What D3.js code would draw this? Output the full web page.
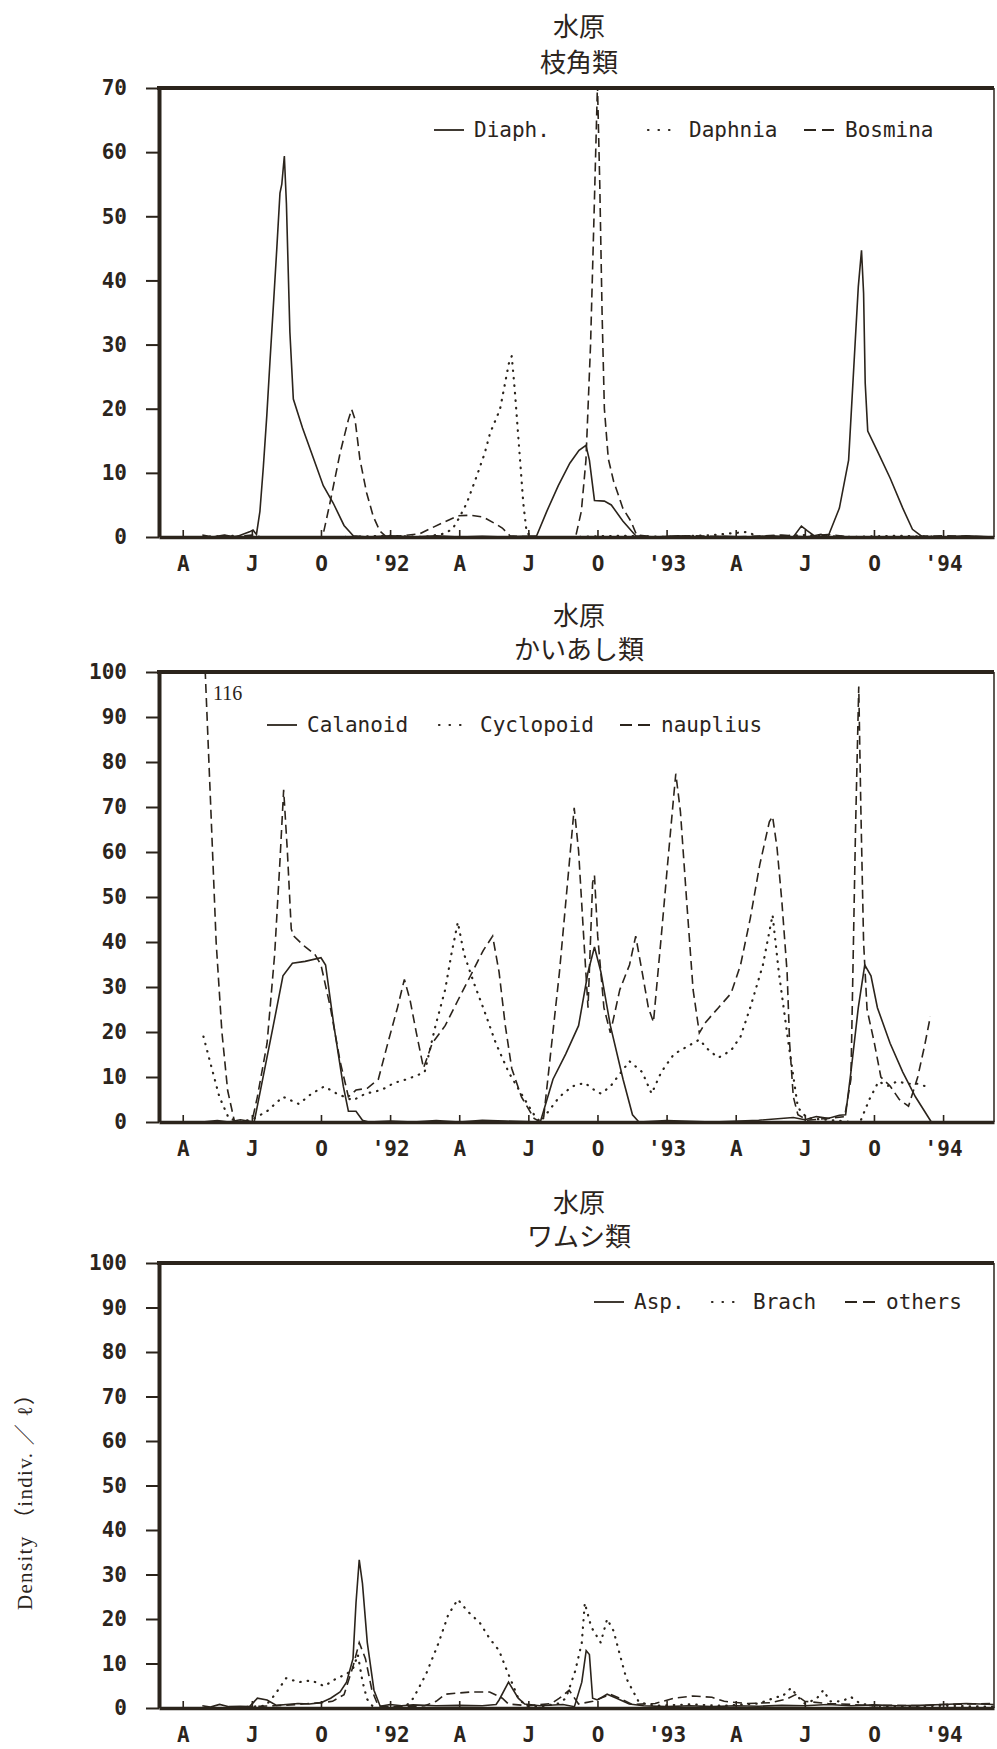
<!DOCTYPE html>
<html>
<head>
<meta charset="utf-8">
<script src="https://cdn.jsdelivr.net/npm/d3@7"></script>
<style>
  body { margin: 0; background: #fff; }
  svg { display: block; }
  .tick text { font-family: "DejaVu Sans Mono", monospace; font-size: 21px; font-weight: bold; fill: #2b241c; }
  .lab { font-family: "DejaVu Sans Mono", monospace; font-size: 21px; fill: #2b241c; }
  .title { font-family: "Noto Sans CJK JP", sans-serif; font-size: 26px; fill: #2b241c; }
</style>
</head>
<body>
<div id="chart"></div>
<script>
// time in months counted from Jan 1991 (3 = Apr '91)
var monthTicks = [3, 6, 9, 12, 15, 18, 21, 24, 27, 30, 33, 36]
var monthLabels = ["A", "J", "O", "'92", "A", "J", "O", "'93", "A", "J", "O", "'94"]
var ticks70 = [0, 10, 20, 30, 40, 50, 60, 70]
var ticks100 = [0, 10, 20, 30, 40, 50, 60, 70, 80, 90, 100]

//cladocera
var diaph = [[3.85,0.3],[4.3,0],[4.8,0.3],[5.3,0],[5.9,0.8],[6.05,1.1],[6.2,0.4],[6.35,4],[6.5,11],[6.65,19],[6.79,27.6],[6.95,37],[7.08,44.8],[7.22,53.6],[7.3,55],[7.41,59.4],[7.5,52],[7.65,32],[7.8,21.5],[8.2,17],[8.7,12],[9.1,8],[9.53,5.3],[10.0,1.8],[10.4,0.2],[11,0],[12,0.2],[13,0],[14,0.2],[15,0],[16,0.1],[17,0],[18.36,0.2],[18.8,4],[19.3,8],[19.8,11.5],[20.2,13.5],[20.5,14.3],[20.65,12],[20.87,5.7],[21.3,5.6],[21.6,5],[22.1,2.5],[22.66,0.2],[23.5,0],[24.5,0.2],[25.5,0],[26.5,0.1],[27.5,0],[28.5,0.2],[29.5,0],[29.85,1.7],[30.1,1],[30.4,0.2],[30.7,0.4],[31.0,0],[31.5,4.5],[31.9,12],[32.18,30],[32.32,39],[32.46,44.7],[32.55,38],[32.62,24],[32.73,16.5],[33.15,13.4],[33.7,9.2],[34.25,4.5],[34.67,1.2],[35.08,0.1],[36,0],[37,0.2],[38.2,0]]
var daphnia = [[3.85,0],[5,0.2],[6,0],[8,0],[10,0],[12,0.2],[13.5,0],[14.3,0.5],[14.7,1.2],[15.0,3],[15.33,5.3],[15.76,9.5],[16.1,13],[16.34,16.2],[16.77,19.9],[16.99,24],[17.15,27],[17.28,28.2],[17.42,22.5],[17.64,12],[17.78,5.3],[17.93,0.6],[18.3,0],[20,0],[22,0.2],[24,0],[26,0.3],[27.5,0.8],[28,0],[30,0.3],[32,0],[34,0.2],[36,0],[38.2,0]]
var bosmina = [[3.85,0],[5,0],[6,0.3],[6.4,0],[8,0],[9.07,0],[9.39,5.3],[9.83,13.1],[10.19,18.3],[10.33,19.9],[10.48,18.3],[10.69,12.1],[10.98,6.9],[11.27,3.2],[11.56,0.9],[11.85,0],[12.5,0.2],[13.29,0.5],[13.8,1.4],[14.39,2.4],[14.94,3.3],[15.5,3.4],[16.04,3.1],[16.5,2.2],[16.87,1.4],[17.2,0.2],[18,0],[19,0],[20.05,0],[20.3,4],[20.5,12],[20.7,30],[20.85,50],[21.0,70.5],[21.1,55],[21.2,35],[21.3,20],[21.47,12.2],[21.7,8.7],[22.1,4.5],[22.46,2.4],[22.7,0.3],[23.5,0],[25,0.2],[27,0],[29,0.3],[30,0],[31,0.4],[32,0],[34,0],[36,0.2],[38.2,0]]

//copepods
var calanoid = [[3.84,0],[4.5,0.3],[5,0],[5.5,0.5],[6.1,0],[6.93,21.4],[7.35,32.5],[7.76,35.3],[8.31,35.7],[9.0,36.5],[9.2,34.9],[9.56,21.4],[9.97,7.9],[10.19,2.4],[10.52,2.4],[10.8,0.4],[11.07,0],[12,0.2],[13,0],[14,0.3],[15,0],[16,0.4],[17,0.2],[18.52,0],[19.07,9.5],[19.62,15.1],[20.18,21.4],[20.59,33.3],[20.87,38.9],[21.15,33.3],[21.56,21.4],[22.11,9.5],[22.52,1.6],[22.8,0],[24,0.3],[26,0],[28,0.4],[29.5,1],[30,0.5],[30.5,1.2],[31,0.8],[31.5,1.5],[31.77,1.6],[32.0,11.1],[32.32,25.4],[32.6,34.9],[32.87,32.5],[33.15,25.4],[33.7,17.5],[34.25,11.1],[34.8,5.6],[35.49,0]]
var cyclopoid = [[3.9,19],[4.18,13.5],[4.59,5.6],[5.0,0.8],[5.56,0],[6.1,0.8],[6.66,2.4],[7.35,5.6],[8.04,4],[8.59,6.3],[9.14,7.9],[9.69,6.3],[10.38,4.8],[10.93,6.3],[11.62,7.1],[12.18,8.7],[12.73,9.5],[13.14,10.3],[13.5,11.1],[13.97,21.4],[14.39,29.4],[14.66,37.3],[14.94,44.4],[15.21,37.3],[15.63,31],[16.04,25.4],[16.59,17.5],[17.14,11.1],[17.69,6.3],[18.25,1.6],[18.52,0],[19.35,5.6],[19.9,7.9],[20.45,8.7],[20.87,7.1],[21.15,6.3],[21.56,7.9],[22.39,13.5],[22.94,11.1],[23.35,6.3],[23.77,11.1],[24.32,15.1],[24.87,16.7],[25.42,18.3],[25.84,15.9],[26.25,14.3],[26.8,15.9],[27.21,19],[27.63,25.4],[28.18,34.9],[28.6,46],[28.87,33.3],[29.29,17.5],[29.7,3.2],[30.11,0.8],[31,0.5],[32,0],[32.4,0],[32.8,5],[33.2,9],[33.6,8],[34.0,9],[34.5,8.5],[34.9,8.5],[35.2,8]]
var nauplius = [[3.85,116],[4.2,72],[4.45,40],[4.7,20],[4.95,7],[5.25,0],[5.6,0.3],[6.0,0],[6.24,5.6],[6.66,17.5],[6.99,37.3],[7.21,57.1],[7.38,73.8],[7.54,60.3],[7.71,42.9],[7.82,41.3],[8.32,38.9],[8.73,37.3],[9.0,34.9],[9.41,25.4],[9.83,13.5],[10.19,5.6],[10.52,7.1],[11.01,7.5],[11.49,9.5],[11.9,17.5],[12.32,25.4],[12.62,31.7],[12.87,27],[13.14,19.8],[13.45,12],[13.83,17.5],[14.39,21.4],[14.94,27],[15.49,32.5],[16.04,38.1],[16.45,41.3],[16.73,33.3],[17.0,21.4],[17.28,11.9],[17.7,5.6],[18.25,0.8],[18.52,0],[18.66,0.8],[19.35,33.3],[19.77,57.1],[19.99,69.8],[20.18,60.3],[20.4,41.3],[20.59,25.4],[20.79,53.2],[20.87,54.8],[21.01,41.3],[21.28,25.4],[21.56,19.8],[21.97,29.4],[22.39,34.9],[22.66,41.3],[22.94,33.3],[23.21,25.4],[23.43,22.2],[23.77,41.3],[24.04,57.1],[24.32,73],[24.4,77.4],[24.6,69],[24.87,49.2],[25.15,29.4],[25.42,19.8],[25.7,22.2],[26.25,25.4],[26.8,28.6],[27.21,34.9],[27.63,45.2],[28.04,57.1],[28.46,66.7],[28.6,67.9],[28.79,61.1],[29.0,49.2],[29.23,33.3],[29.34,17.5],[29.5,5.6],[29.7,1.6],[30.11,0.4],[31,0.8],[31.73,1.2],[32.0,9.5],[32.2,65],[32.34,96.8],[32.43,70],[32.55,40],[32.7,25],[33.0,18],[33.3,10],[33.7,8],[34.1,5],[34.5,3.5],[34.9,10],[35.2,17],[35.45,23.5]]

//rotifers
var asp = [[3.85,0.5],[4.2,0.2],[4.6,0.8],[5,0.3],[5.5,0.4],[5.9,0.3],[6.24,2.2],[6.66,1.8],[7.07,0.6],[7.5,0.8],[8,1],[8.5,0.9],[9,1.2],[9.42,2.2],[9.83,3.6],[10.11,5.8],[10.39,11.1],[10.52,23.6],[10.66,33.3],[10.8,28],[11.01,14.7],[11.3,4],[11.57,0.4],[12,0.8],[12.5,0.5],[13,0.7],[14,0.5],[15,0.6],[16,0.5],[16.6,0.8],[16.73,1.8],[17.14,5.8],[17.56,2.2],[17.84,0.9],[18.5,0.5],[19.5,0.8],[20,0.3],[20.32,5.8],[20.51,12.9],[20.65,12],[20.79,2.2],[21.0,1.8],[21.42,3.1],[21.83,2.2],[22.38,0.9],[23,0.5],[24,0.3],[25,0.5],[26,0.3],[27,0.5],[28,0.4],[29,0.6],[30,0.5],[31,0.8],[32,0.5],[33,0.7],[34,0.5],[35,0.6],[36,0.8],[37,1.0],[38.2,0.8]]
var brach = [[3.85,0],[5,0],[6,0.3],[6.6,0.5],[7.0,3],[7.49,6.7],[8.04,5.8],[8.59,6.2],[9.14,4.9],[9.69,6.7],[10.11,7.6],[10.4,9],[10.6,12],[10.8,6],[11.0,2],[11.3,0],[12,0],[12.7,0.5],[13.01,2.2],[13.56,7.6],[14.11,14.7],[14.52,20.9],[14.94,24.4],[15.35,21.8],[15.9,19.1],[16.32,15.6],[16.73,12.9],[17.0,9.3],[17.28,5.8],[17.56,2.2],[17.9,0.5],[18.5,0.3],[19.3,1],[19.63,2.2],[20.04,8.4],[20.32,14.7],[20.45,23.6],[20.73,18.2],[21.14,14.7],[21.42,20],[21.7,17.3],[21.97,12],[22.25,6.7],[22.52,4],[22.8,1.3],[23.5,0.5],[25,0.8],[26.5,0.5],[28,1],[28.8,2.5],[29.0,2.5],[29.4,4.5],[29.7,2.5],[30.0,1],[30.5,2],[30.8,4],[31.1,1.5],[31.6,1.5],[32,2.5],[32.4,1],[33,0.5],[34,0.3],[36,0.5],[38.2,0.3]]
var others = [[3.85,0],[5,0],[6,0.3],[7,0.5],[8,0.8],[9,1.2],[9.5,1.5],[10.0,3],[10.39,9.3],[10.66,14.7],[10.93,11.1],[11.21,4],[11.49,0.4],[12.5,0.3],[13.5,0.5],[14.0,1.5],[14.39,3.1],[15.49,3.6],[16.32,3.6],[16.87,2.2],[17.14,0.9],[18,0.5],[19,1],[19.35,2.2],[19.77,4],[20.18,0.9],[20.8,1.5],[21.56,3.1],[21.97,2.2],[22.5,0.8],[23.5,1],[24.32,2.2],[25.15,2.7],[25.97,2.4],[26.5,1.5],[27.5,1],[28.5,1.2],[29.2,2],[29.6,3],[30,1.5],[31,1],[32,0.8],[33,0.5],[34,0.6],[35,0.5],[36,0.8],[38.2,1]]

var ink = "#2b241c"
var dashes = { solid: null, dotted: "0.5,7", dashed: "9,5" }
var sampleDashes = { solid: null, dotted: "0.5,10", dashed: "12,6" }

var panels = [
    {place: "水原", group: "枝角類", top: 88, bottom: 537, max: 70, ticks: ticks70, titleY: [24, 60], legendY: 130,
     series: [
        {name: "Diaph.", style: "solid", data: diaph, lx: 434},
        {name: "Daphnia", style: "dotted", data: daphnia, lx: 648},
        {name: "Bosmina", style: "dashed", data: bosmina, lx: 804}]},
    {place: "水原", group: "かいあし類", top: 672, bottom: 1122, max: 100, ticks: ticks100, titleY: [613, 647], legendY: 725,
     series: [
        {name: "Calanoid", style: "solid", data: calanoid, lx: 267},
        {name: "Cyclopoid", style: "dotted", data: cyclopoid, lx: 439},
        {name: "nauplius", style: "dashed", data: nauplius, lx: 620}]},
    {place: "水原", group: "ワムシ類", top: 1263, bottom: 1708, max: 100, ticks: ticks100, titleY: [1200, 1234], legendY: 1302,
     series: [
        {name: "Asp.", style: "solid", data: asp, lx: 594},
        {name: "Brach", style: "dotted", data: brach, lx: 712},
        {name: "others", style: "dashed", data: others, lx: 845}]}
]

var width = 997, height = 1749
var left = 159, right = 994

var svg = d3.select("#chart").append("svg")
    .attr("width", width)
    .attr("height", height)

var x = d3.scaleLinear().domain([1.97, 38.21]).range([left, right])

panels.forEach(function(p, i){
    var y = d3.scaleLinear().domain([0, p.max]).range([p.bottom, p.top])
    var g = svg.append("g")

    //titles
    g.append("text").attr("class", "title").attr("x", 579).attr("y", p.titleY[0])
        .attr("text-anchor", "middle").attr("dominant-baseline", "central").text(p.place)
    g.append("text").attr("class", "title").attr("x", 579).attr("y", p.titleY[1])
        .attr("text-anchor", "middle").attr("dominant-baseline", "central").text(p.group)

    //clip so the big peaks stop at the frame
    svg.append("clipPath").attr("id", "clip" + i)
        .append("rect")
        .attr("x", left).attr("y", p.top)
        .attr("width", right - left).attr("height", p.bottom - p.top + 2)

    var line = d3.line().x(d => x(d[0])).y(d => y(d[1]))

    p.series.forEach(function(s){
        g.append("path")
            .attr("d", line(s.data))
            .attr("clip-path", "url(#clip" + i + ")")
            .attr("fill", "none")
            .attr("stroke", ink)
            .attr("stroke-width", s.style == "dotted" ? 2.2 : 1.6)
            .attr("stroke-linecap", s.style == "dotted" ? "round" : "butt")
            .attr("stroke-dasharray", dashes[s.style])
    })

    //y axis
    var yAxis = g.append("g")
        .attr("transform", `translate(${left},0)`)
        .call(d3.axisLeft(y).tickValues(p.ticks).tickSize(13).tickSizeOuter(0).tickPadding(19))
    yAxis.select(".domain").attr("stroke", ink).attr("stroke-width", 4)
    yAxis.selectAll(".tick line").attr("stroke", ink).attr("stroke-width", 2)

    //x axis
    var xAxis = g.append("g")
        .attr("transform", `translate(0,${p.bottom})`)
        .call(d3.axisBottom(x).tickValues(monthTicks)
            .tickFormat((d, k) => monthLabels[k])
            .tickSizeInner(-7).tickSizeOuter(0).tickPadding(19))
    xAxis.select(".domain").attr("stroke", ink).attr("stroke-width", 3.5)
    xAxis.selectAll(".tick line").attr("stroke", ink).attr("stroke-width", 1.6)

    //frame top + right
    g.append("line").attr("x1", left - 2).attr("x2", right).attr("y1", p.top).attr("y2", p.top)
        .attr("stroke", ink).attr("stroke-width", 4)
    g.append("line").attr("x1", right).attr("x2", right).attr("y1", p.top).attr("y2", p.bottom)
        .attr("stroke", ink).attr("stroke-width", 1.5)

    //legend
    p.series.forEach(function(s){
        g.append("line")
            .attr("x1", s.lx).attr("x2", s.lx + 30)
            .attr("y1", p.legendY).attr("y2", p.legendY)
            .attr("stroke", ink)
            .attr("stroke-width", s.style == "dotted" ? 2.2 : 1.8)
            .attr("stroke-linecap", s.style == "dotted" ? "round" : "butt")
            .attr("stroke-dasharray", sampleDashes[s.style])
        g.append("text").attr("class", "lab")
            .attr("x", s.lx + (s.style == "solid" ? 40 : 41))
            .attr("y", p.legendY)
            .attr("dominant-baseline", "central")
            .text(s.name)
    })
})

//value above the frame
svg.append("text")
    .attr("x", 213).attr("y", 700)
    .attr("font-family", "Liberation Serif, serif")
    .attr("font-size", 20)
    .attr("fill", ink)
    .text("116")

//y title
svg.append("text")
    .attr("transform", "translate(32,1497) rotate(-90)")
    .attr("text-anchor", "middle")
    .attr("font-family", "Liberation Serif, Noto Sans CJK JP, serif")
    .attr("font-size", 21)
    .attr("fill", ink)
    .attr("textLength", 226)
    .attr("lengthAdjust", "spacing")
    .text("Density （indiv. ／ ℓ）")
</script>
</body>
</html>
